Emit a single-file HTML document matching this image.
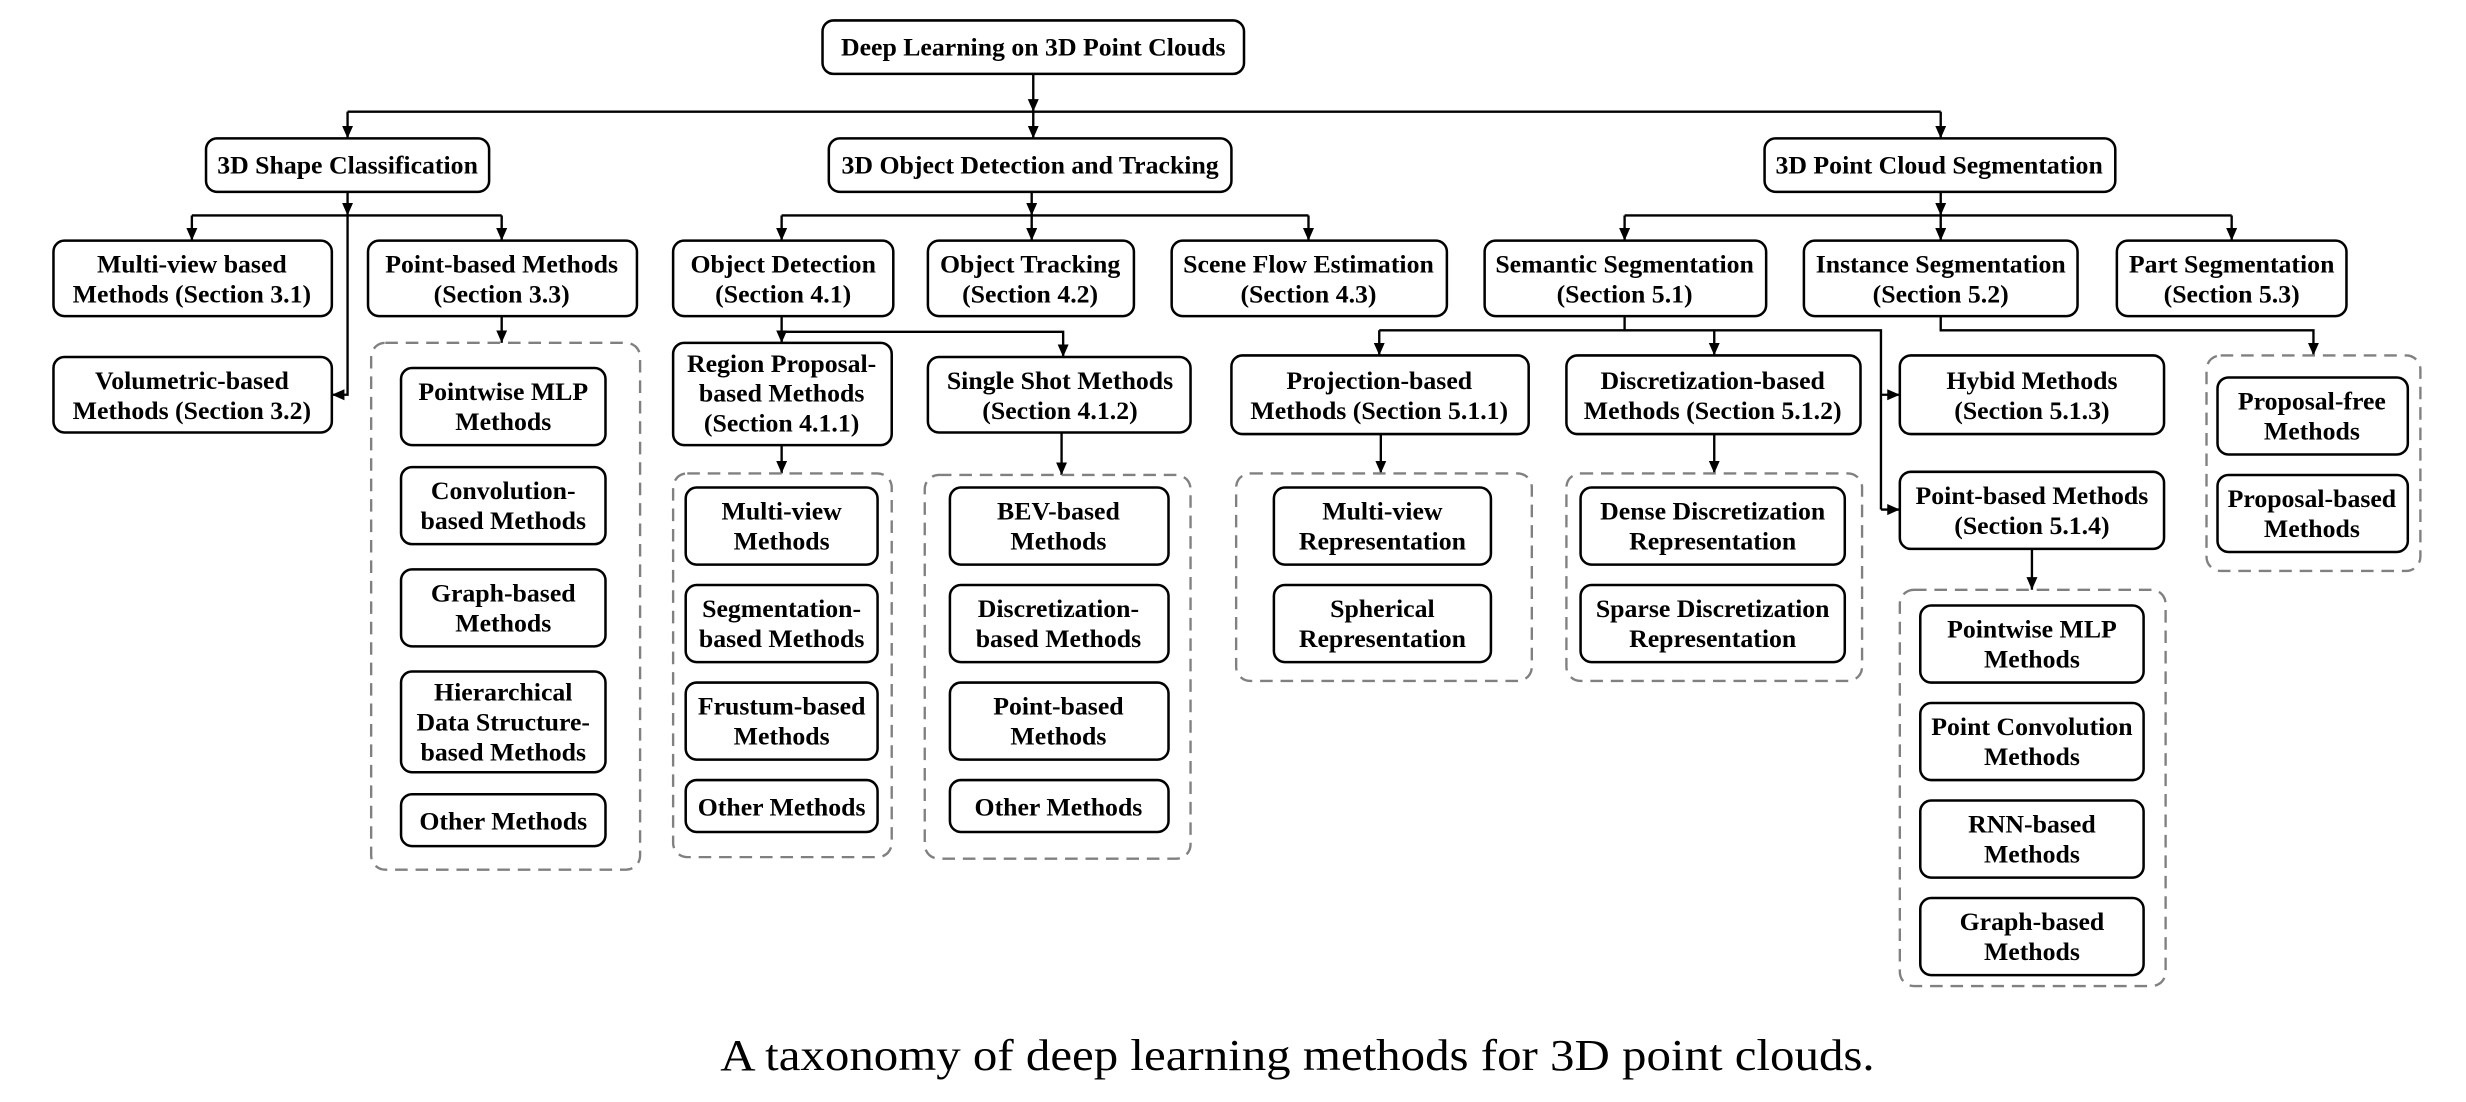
<!DOCTYPE html>
<html><head><meta charset="utf-8"><style>
html,body{margin:0;padding:0;background:#fff;}
svg{display:block;}
.b{fill:#fff;stroke:#000;stroke-width:1.6;}
.d{fill:none;stroke:#808080;stroke-width:1.5;stroke-dasharray:8,5;}
.l{fill:none;stroke:#000;stroke-width:1.5;}
text{font-family:"Liberation Serif",serif;font-weight:bold;font-size:16.4px;text-anchor:middle;dominant-baseline:central;fill:#000;}
text.cap{font-weight:normal;font-size:28px;}
</style></head><body>
<svg width="2466" height="1102" viewBox="0 0 1568 700.7" preserveAspectRatio="none" xmlns="http://www.w3.org/2000/svg">
<defs><marker id="a" markerUnits="userSpaceOnUse" markerWidth="9" markerHeight="8" refX="8" refY="3.5" orient="auto"><path d="M0,0 L8,3.5 L0,7 z" fill="#000"/></marker></defs>

<g class="l">
<path d="M657 47 V71" marker-end="url(#a)"/>
<path d="M657 71 V88" marker-end="url(#a)"/>
<path d="M221 71 H1234"/>
<path d="M221 71 V88" marker-end="url(#a)"/>
<path d="M1234 71 V88" marker-end="url(#a)"/>

<path d="M221 122 V137" marker-end="url(#a)"/>
<path d="M122 137 H319"/>
<path d="M122 137 V153" marker-end="url(#a)"/>
<path d="M319 137 V153" marker-end="url(#a)"/>
<path d="M221 137 V251 H211" marker-end="url(#a)"/>
<path d="M319 201 V218" marker-end="url(#a)"/>

<path d="M656 122 V137" marker-end="url(#a)"/>
<path d="M497 137 H832"/>
<path d="M497 137 V153" marker-end="url(#a)"/>
<path d="M656 137 V153" marker-end="url(#a)"/>
<path d="M832 137 V153" marker-end="url(#a)"/>
<path d="M497 201 V211 H676 V227" marker-end="url(#a)"/>
<path d="M497 211 V218" marker-end="url(#a)"/>
<path d="M497 283 V301" marker-end="url(#a)"/>
<path d="M675 275 V302" marker-end="url(#a)"/>

<path d="M1234 122 V137" marker-end="url(#a)"/>
<path d="M1033 137 H1419"/>
<path d="M1033 137 V153" marker-end="url(#a)"/>
<path d="M1234 137 V153" marker-end="url(#a)"/>
<path d="M1419 137 V153" marker-end="url(#a)"/>
<path d="M1033 201 V210"/>
<path d="M877 210 H1196 V324"/>
<path d="M877 210 V226" marker-end="url(#a)"/>
<path d="M1090 210 V226" marker-end="url(#a)"/>
<path d="M1196 251 H1208" marker-end="url(#a)"/>
<path d="M1196 324 H1208" marker-end="url(#a)"/>
<path d="M1234 201 V210 H1471 V226" marker-end="url(#a)"/>
<path d="M878 276 V301" marker-end="url(#a)"/>
<path d="M1090 276 V301" marker-end="url(#a)"/>
<path d="M1292 349 V375" marker-end="url(#a)"/>
</g>

<g class="d">
<rect x="236" y="218" width="171" height="335" rx="9"/>
<rect x="428" y="301" width="139" height="244" rx="9"/>
<rect x="588" y="302" width="169" height="244" rx="9"/>
<rect x="786" y="301" width="188" height="132" rx="9"/>
<rect x="996" y="301" width="188" height="132" rx="9"/>
<rect x="1208" y="375" width="169" height="252" rx="9"/>
<rect x="1403" y="226" width="136" height="137" rx="9"/>
</g>

<g class="b">
<rect x="523" y="13" width="268" height="34" rx="7"/>
<rect x="131" y="88" width="180" height="34" rx="7"/>
<rect x="527" y="88" width="256" height="34" rx="7"/>
<rect x="1122" y="88" width="223" height="34" rx="7"/>

<rect x="34" y="153" width="177" height="48" rx="7"/>
<rect x="234" y="153" width="171" height="48" rx="7"/>
<rect x="34" y="227" width="177" height="48" rx="7"/>
<rect x="255" y="234" width="130" height="49" rx="7"/>
<rect x="255" y="297" width="130" height="49" rx="7"/>
<rect x="255" y="362" width="130" height="49" rx="7"/>
<rect x="255" y="427" width="130" height="64" rx="7"/>
<rect x="255" y="505" width="130" height="33" rx="7"/>

<rect x="428" y="153" width="140" height="48" rx="7"/>
<rect x="590" y="153" width="131" height="48" rx="7"/>
<rect x="745" y="153" width="175" height="48" rx="7"/>
<rect x="428" y="218" width="139" height="65" rx="7"/>
<rect x="590" y="227" width="167" height="48" rx="7"/>
<rect x="436" y="310" width="122" height="49" rx="7"/>
<rect x="436" y="372" width="122" height="49" rx="7"/>
<rect x="436" y="434" width="122" height="49" rx="7"/>
<rect x="436" y="496" width="122" height="33" rx="7"/>
<rect x="604" y="310" width="139" height="49" rx="7"/>
<rect x="604" y="372" width="139" height="49" rx="7"/>
<rect x="604" y="434" width="139" height="49" rx="7"/>
<rect x="604" y="496" width="139" height="33" rx="7"/>

<rect x="944" y="153" width="179" height="48" rx="7"/>
<rect x="1147" y="153" width="174" height="48" rx="7"/>
<rect x="1346" y="153" width="146" height="48" rx="7"/>
<rect x="783" y="226" width="189" height="50" rx="7"/>
<rect x="996" y="226" width="187" height="50" rx="7"/>
<rect x="1208" y="226" width="168" height="50" rx="7"/>
<rect x="1208" y="300" width="168" height="49" rx="7"/>
<rect x="810" y="310" width="138" height="49" rx="7"/>
<rect x="810" y="372" width="138" height="49" rx="7"/>
<rect x="1005" y="310" width="168" height="49" rx="7"/>
<rect x="1005" y="372" width="168" height="49" rx="7"/>
<rect x="1221" y="385" width="142" height="49" rx="7"/>
<rect x="1221" y="447" width="142" height="49" rx="7"/>
<rect x="1221" y="509" width="142" height="49" rx="7"/>
<rect x="1221" y="571" width="142" height="49" rx="7"/>
<rect x="1410" y="240" width="121" height="49" rx="7"/>
<rect x="1410" y="302" width="121" height="49" rx="7"/>
</g>

<text x="657" y="30">Deep Learning on 3D Point Clouds</text>
<text x="221" y="105">3D Shape Classification</text>
<text x="655" y="105">3D Object Detection and Tracking</text>
<text x="1233" y="105">3D Point Cloud Segmentation</text>

<text x="122" y="168">Multi-view based</text><text x="122" y="187">Methods (Section 3.1)</text>
<text x="319" y="168">Point-based Methods</text><text x="319" y="187">(Section 3.3)</text>
<text x="122" y="242">Volumetric-based</text><text x="122" y="261">Methods (Section 3.2)</text>
<text x="320" y="249">Pointwise MLP</text><text x="320" y="268">Methods</text>
<text x="320" y="312">Convolution-</text><text x="320" y="331">based Methods</text>
<text x="320" y="377">Graph-based</text><text x="320" y="396">Methods</text>
<text x="320" y="440">Hierarchical</text><text x="320" y="459">Data Structure-</text><text x="320" y="478">based Methods</text>
<text x="320" y="522">Other Methods</text>

<text x="498" y="168">Object Detection</text><text x="498" y="187">(Section 4.1)</text>
<text x="655" y="168">Object Tracking</text><text x="655" y="187">(Section 4.2)</text>
<text x="832" y="168">Scene Flow Estimation</text><text x="832" y="187">(Section 4.3)</text>
<text x="497" y="231">Region Proposal-</text><text x="497" y="250">based Methods</text><text x="497" y="269">(Section 4.1.1)</text>
<text x="674" y="242">Single Shot Methods</text><text x="674" y="261">(Section 4.1.2)</text>
<text x="497" y="325">Multi-view</text><text x="497" y="344">Methods</text>
<text x="497" y="387">Segmentation-</text><text x="497" y="406">based Methods</text>
<text x="497" y="449">Frustum-based</text><text x="497" y="468">Methods</text>
<text x="497" y="513">Other Methods</text>
<text x="673" y="325">BEV-based</text><text x="673" y="344">Methods</text>
<text x="673" y="387">Discretization-</text><text x="673" y="406">based Methods</text>
<text x="673" y="449">Point-based</text><text x="673" y="468">Methods</text>
<text x="673" y="513">Other Methods</text>

<text x="1033" y="168">Semantic Segmentation</text><text x="1033" y="187">(Section 5.1)</text>
<text x="1234" y="168">Instance Segmentation</text><text x="1234" y="187">(Section 5.2)</text>
<text x="1419" y="168">Part Segmentation</text><text x="1419" y="187">(Section 5.3)</text>
<text x="877" y="242">Projection-based</text><text x="877" y="261">Methods (Section 5.1.1)</text>
<text x="1089" y="242">Discretization-based</text><text x="1089" y="261">Methods (Section 5.1.2)</text>
<text x="1292" y="242">Hybid Methods</text><text x="1292" y="261">(Section 5.1.3)</text>
<text x="1292" y="315">Point-based Methods</text><text x="1292" y="334">(Section 5.1.4)</text>
<text x="879" y="325">Multi-view</text><text x="879" y="344">Representation</text>
<text x="879" y="387">Spherical</text><text x="879" y="406">Representation</text>
<text x="1089" y="325">Dense Discretization</text><text x="1089" y="344">Representation</text>
<text x="1089" y="387">Sparse Discretization</text><text x="1089" y="406">Representation</text>
<text x="1292" y="400">Pointwise MLP</text><text x="1292" y="419">Methods</text>
<text x="1292" y="462">Point Convolution</text><text x="1292" y="481">Methods</text>
<text x="1292" y="524">RNN-based</text><text x="1292" y="543">Methods</text>
<text x="1292" y="586">Graph-based</text><text x="1292" y="605">Methods</text>
<text x="1470" y="255">Proposal-free</text><text x="1470" y="274">Methods</text>
<text x="1470" y="317">Proposal-based</text><text x="1470" y="336">Methods</text>

<text class="cap" x="825" y="671" textLength="734" lengthAdjust="spacingAndGlyphs">A taxonomy of deep learning methods for 3D point clouds.</text>
</svg>
</body></html>
